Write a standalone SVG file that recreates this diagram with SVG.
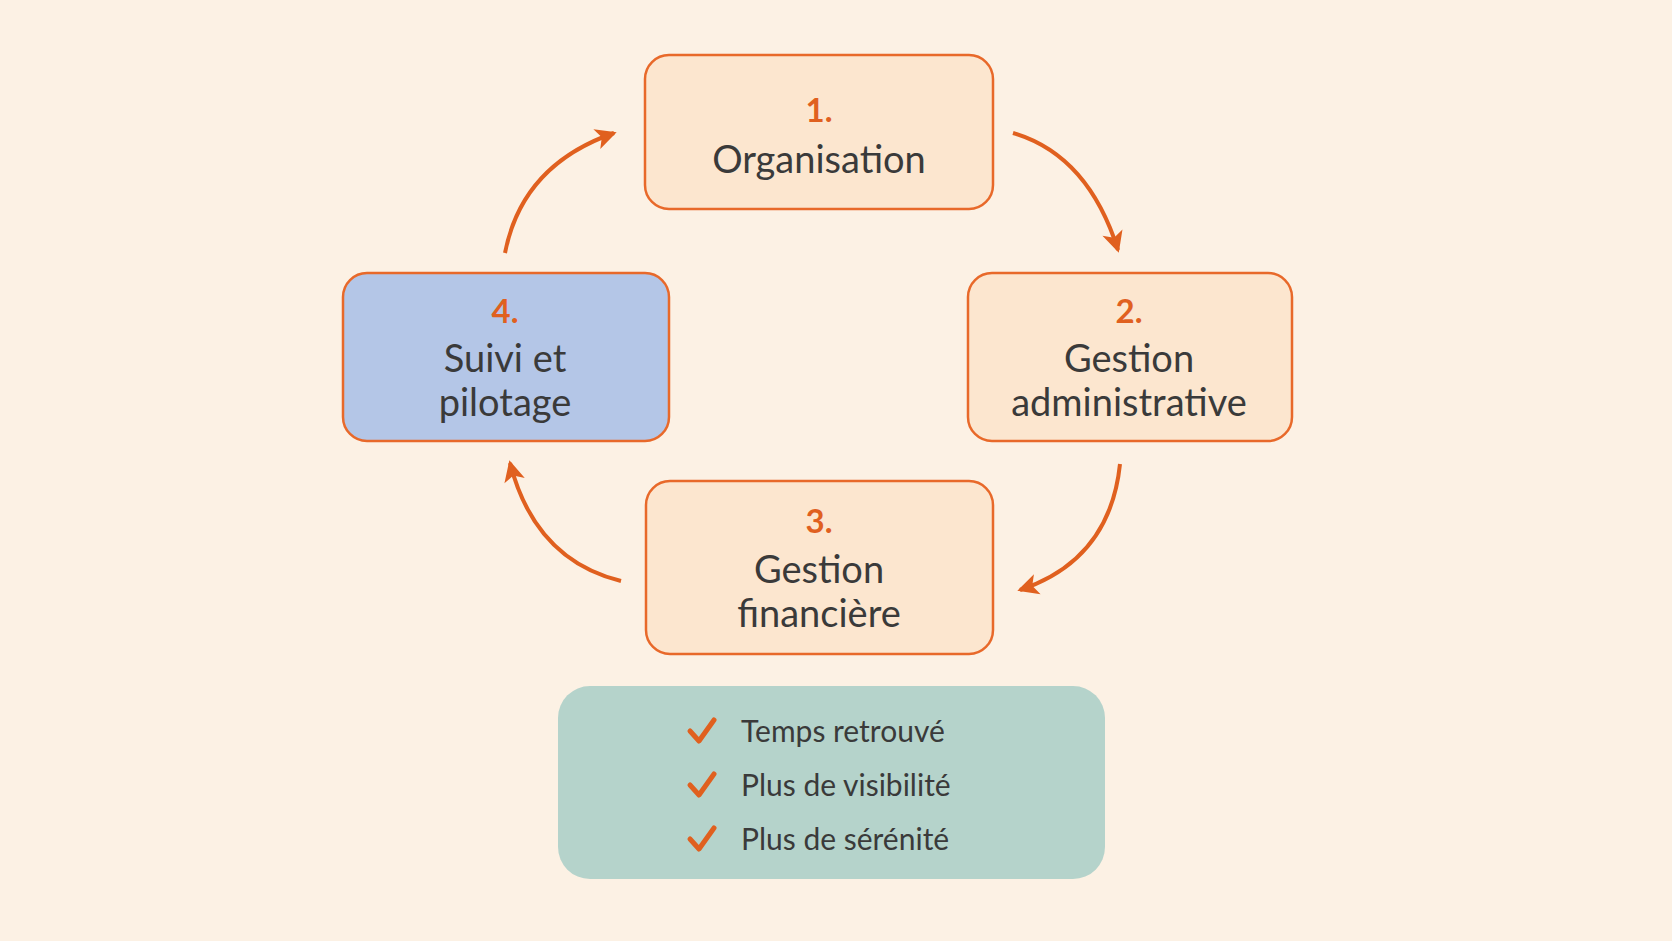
<svg xmlns="http://www.w3.org/2000/svg" width="1672" height="941" viewBox="0 0 1672 941">
<style>
.box{fill:#fce6cf;stroke:#e8692a;stroke-width:2.5}
.num{font-family:Lato,"Open Sans",sans-serif;font-weight:bold;font-size:33px;fill:#e0601f;text-anchor:middle}
.lbl{font-family:Lato,"Open Sans",sans-serif;font-size:38px;fill:#3a3a3a;text-anchor:middle}
.chk{font-family:Lato,"Open Sans",sans-serif;font-size:30px;fill:#3a3a3a}
.arr{fill:none;stroke:#e0601f;stroke-width:4;marker-end:url(#ah)}
.tick{fill:none;stroke:#e0601f;stroke-width:5;stroke-linecap:round;stroke-linejoin:round}
</style>
<defs>
<marker id="ah" viewBox="0 0 10 10" refX="8" refY="5" markerWidth="7" markerHeight="7" markerUnits="userSpaceOnUse" orient="auto" overflow="visible">
<path d="M0,0 L10,5 L0,10 L2.5,5 Z" fill="#e0601f" transform="scale(3) translate(-6,-3.3)"/>
</marker>
</defs>
<rect width="1672" height="941" fill="#fcf1e4"/>
<g id="connectors">
<path class="arr" d="M1013,133 Q1088,155 1118,250"/>
<path class="arr" d="M1120,464 Q1110,560 1020,590"/>
<path class="arr" d="M621,581 Q535,560 510,463"/>
<path class="arr" d="M505,253 Q522,165 614,133"/>
</g>
<g id="n1"><rect class="box" x="645" y="55" width="348" height="154" rx="24"/>
<text class="num" x="819" y="122">1.</text><text class="lbl" x="819" y="173">Organisation</text></g>
<g id="n2"><rect class="box" x="968" y="273" width="324" height="168" rx="24"/>
<text class="num" x="1129" y="323">2.</text><text class="lbl" x="1129" y="372">Gestion</text><text class="lbl" x="1129" y="416">administrative</text></g>
<g id="n3"><rect class="box" x="646" y="481" width="347" height="173" rx="24"/>
<text class="num" x="819" y="533">3.</text><text class="lbl" x="819" y="583">Gestion</text><text class="lbl" x="819" y="627">financière</text></g>
<g id="n4"><rect class="box" x="343" y="273" width="326" height="168" rx="24" style="fill:#b4c6e7"/>
<text class="num" x="505" y="323">4.</text><text class="lbl" x="505" y="372">Suivi et</text><text class="lbl" x="505" y="416">pilotage</text></g>
<g id="benefits"><rect x="558" y="686" width="547" height="193" rx="32" fill="#b5d3cb"/>
<path class="tick" d="M690,731 L699,741 L714,720"/>
<path class="tick" d="M690,785 L699,795 L714,774"/>
<path class="tick" d="M690,839 L699,849 L714,828"/>
<text class="chk" x="741" y="742">Temps retrouvé</text>
<text class="chk" x="741" y="796">Plus de visibilité</text>
<text class="chk" x="741" y="850">Plus de sérénité</text></g>
</svg>
